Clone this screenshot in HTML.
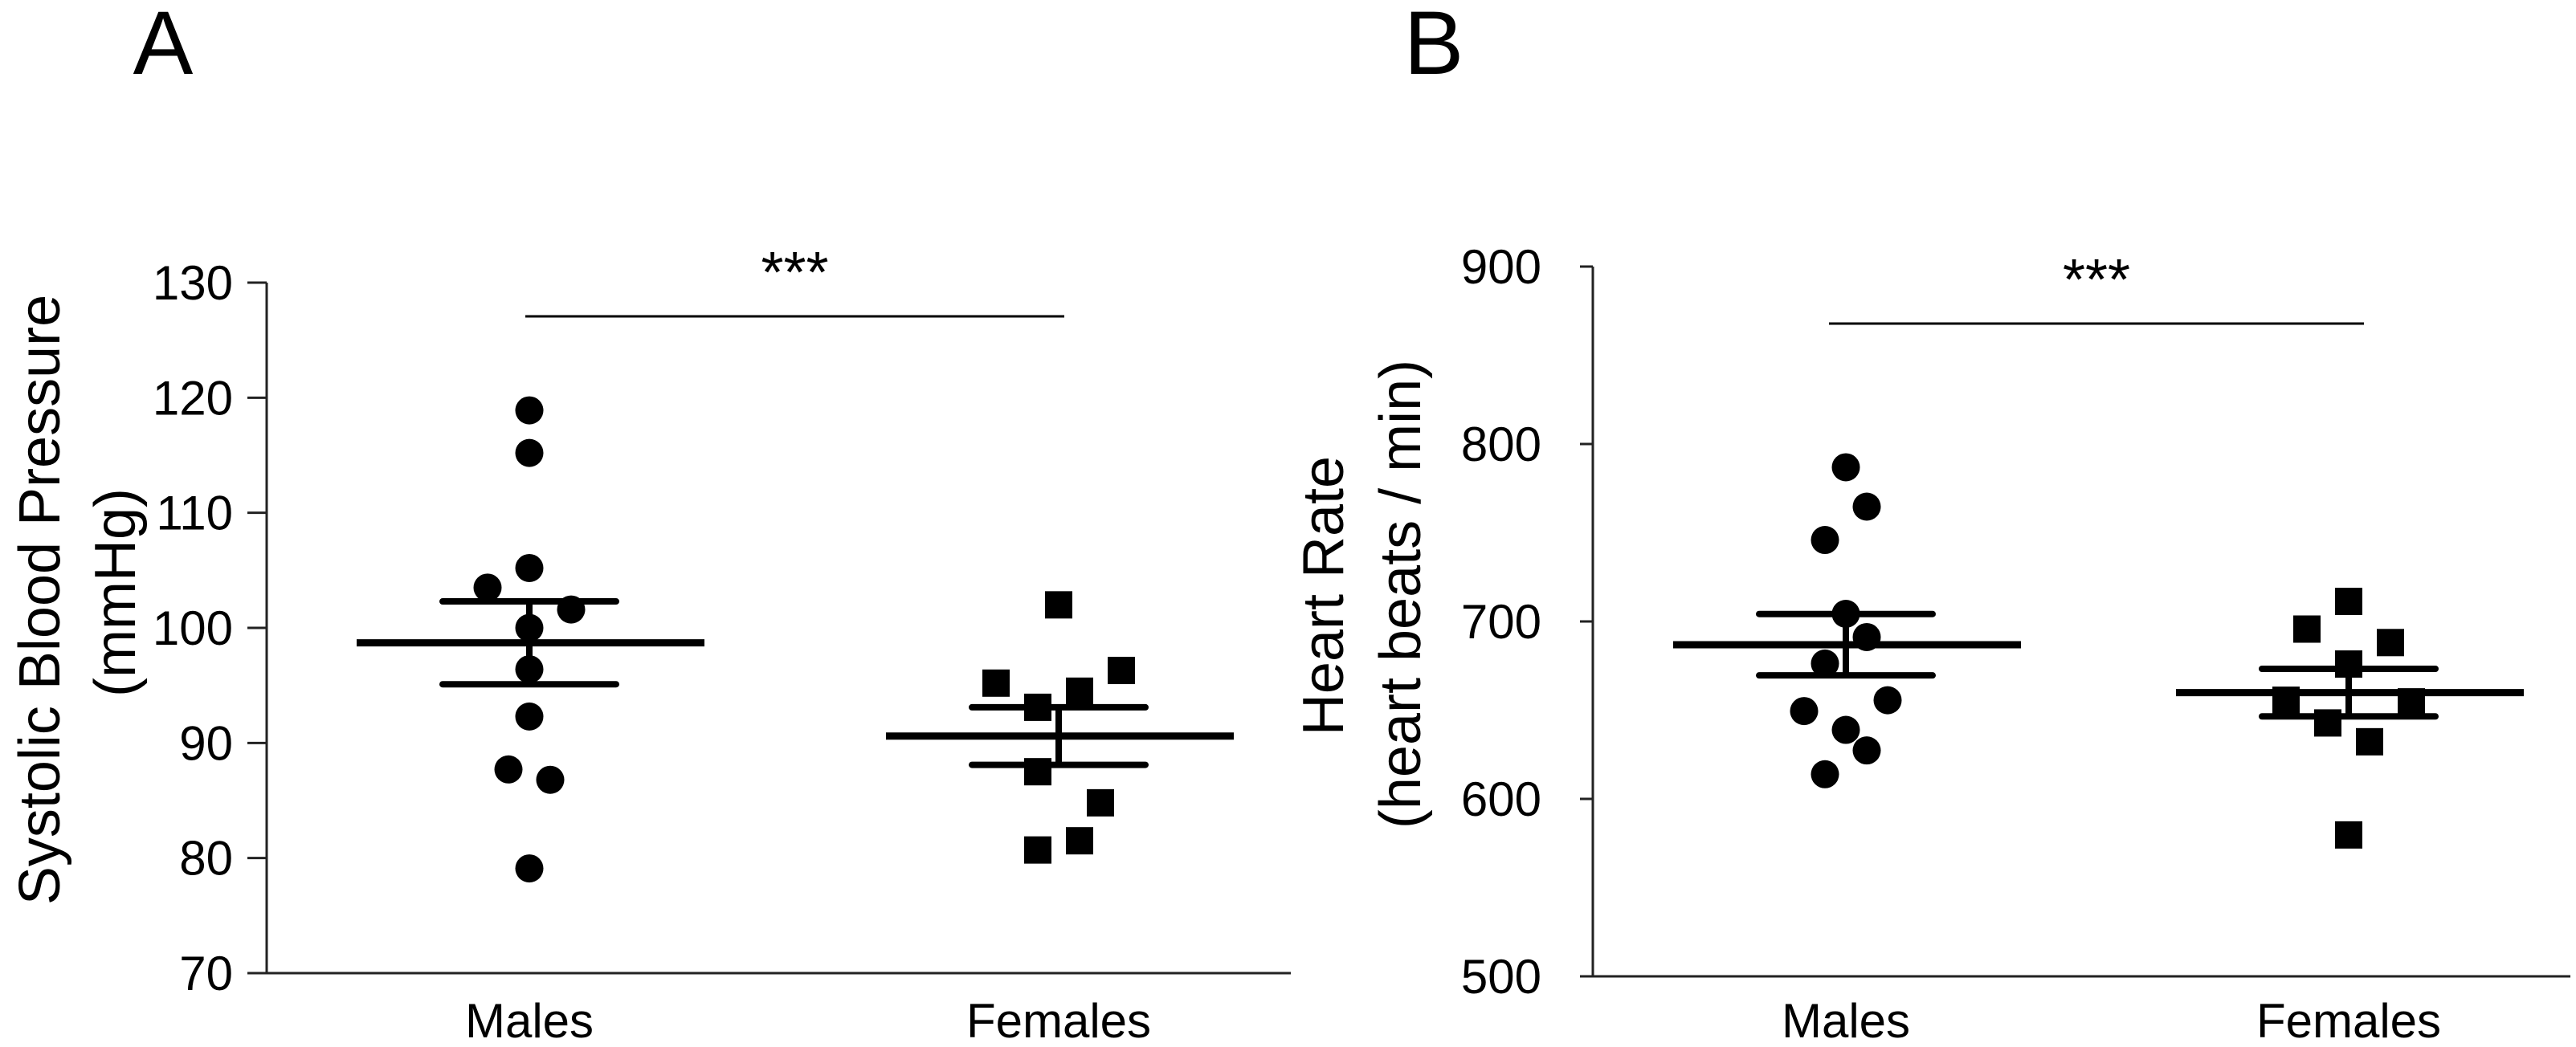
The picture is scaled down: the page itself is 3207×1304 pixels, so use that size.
<!DOCTYPE html>
<html><head><meta charset="utf-8">
<style>
html,body{margin:0;padding:0;background:#fff;}
svg{display:block;font-family:"Liberation Sans",Arial,sans-serif;}
</style></head>
<body>
<svg id="fig" width="3207" height="1304" viewBox="0 0 3207 1304" xmlns="http://www.w3.org/2000/svg">
<text x="203" y="92" font-size="112" text-anchor="middle">A</text>
<text x="1785" y="92" font-size="112" text-anchor="middle">B</text>
<g id="panelA"></g>
<g id="panelB"></g>
</svg>
<script>
// Panel A data
const aTicks = [70, 80, 90, 100, 110, 120, 130];
const aCategories = ["Males", "Females"];
const aMales = [118.9, 115.2, 105.2, 103.5, 101.6, 100.0, 96.4, 92.3, 87.7, 86.8, 79.1];
const aMalesOffset = [0, 0, 0, -2, 2, 0, 0, 0, -1, 1, 0];
const aFemales = [102.0, 95.2, 96.3, 94.5, 93.1, 87.5, 84.8, 81.5, 80.7];
const aFemalesOffset = [0, -3, 3, 1, -1, -1, 2, 1, -1];
const aMeans = [98.7, 90.6];
const aSem = [3.6, 2.5];
// Panel B data
const bTicks = [500, 600, 700, 800, 900];
const bCategories = ["Males", "Females"];
const bMales = [786.9, 764.7, 745.9, 704.3, 691.2, 676.3, 655.6, 649.5, 638.9, 627.3, 613.9];
const bMalesOffset = [0, 1, -1, 0, 1, -1, 2, -2, 0, 1, -1];
const bFemales = [711.3, 695.7, 688.1, 676.0, 655.6, 654.7, 642.8, 632.2, 579.7];
const bFemalesOffset = [0, -2, 2, 0, -3, 3, -1, 1, 0];
const bMeans = [686.9, 659.9];
const bSem = [17.3, 13.4];

const NS = "http://www.w3.org/2000/svg";
function mk(parent, tag, attrs, text) {
  const e = document.createElementNS(NS, tag);
  for (const k in attrs) e.setAttribute(k, attrs[k]);
  if (text !== undefined) e.textContent = text;
  parent.appendChild(e);
  return e;
}

function drawPanel(g, cfg) {
  const yScale = v => cfg.yBottom - (v - cfg.yMin) / (cfg.yMax - cfg.yMin) * (cfg.yBottom - cfg.yTop);
  const xCat = i => cfg.catX[i];
  let ax = mk(g, "line", {x1: cfg.axisX, y1: cfg.yTop, x2: cfg.axisX, y2: cfg.yBottom, stroke: "#222", "stroke-width": 3});
  
  
  let xa = mk(g, "line", {x1: cfg.axisX - cfg.tickLen, y1: cfg.yBottom, x2: cfg.xEnd, y2: cfg.yBottom, stroke: "#222", "stroke-width": 3});
  
  
  cfg.ticks.forEach(t => {
    const y = yScale(t);
    const tl = mk(g, "line", {x1: cfg.axisX - cfg.tickLen, y1: y, x2: cfg.axisX, y2: y, stroke: "#222", "stroke-width": 3});
    
    
    const tx = mk(g, "text", {x: cfg.labelRight, y: y + 21, "font-size": 60, "text-anchor": "end"}, String(t));
    
    
  });
  cfg.categories.forEach((c, i) => {
    const t = mk(g, "text", {x: xCat(i), y: 1292, "font-size": 60, "text-anchor": "middle"}, c);
    
    
  });
  cfg.titles.forEach(tt => {
    const t = mk(g, "text", {x: 0, y: 0, "font-size": 72, "text-anchor": "middle", transform: `translate(${tt.x},${tt.y}) rotate(-90)`}, tt.text);
    
    
  });
  cfg.males.forEach((v, i) => {
    const c = mk(g, "circle", {cx: xCat(0) + cfg.malesOff[i] * 26, cy: yScale(v), r: 17.5, fill: "#000"});
    
    
  });
  cfg.females.forEach((v, i) => {
    const r = mk(g, "rect", {x: xCat(1) + cfg.femalesOff[i] * 26 - 17, y: yScale(v) - 17, width: 34, height: 34, fill: "#000"});
    
    
  });
  cfg.means.forEach((m, i) => {
    const cx = xCat(i);
    const ym = yScale(m), yu = yScale(m + cfg.sem[i]), yl = yScale(m - cfg.sem[i]);
    const vl = mk(g, "line", {x1: cx, y1: yu, x2: cx, y2: yl, stroke: "#000", "stroke-width": 8});
    
    
    const ml = mk(g, "line", {x1: cx - 215, y1: ym, x2: cx + 218, y2: ym, stroke: "#000", "stroke-width": 9});
    
    
    [yu, yl].forEach(yy => {
      const cap = mk(g, "line", {x1: cx - 108, y1: yy, x2: cx + 108, y2: yy, stroke: "#000", "stroke-width": 8, "stroke-linecap": "round"});
      
      
    });
  });
  const sb = mk(g, "line", {x1: cfg.sig[0], y1: cfg.sigY, x2: cfg.sig[1], y2: cfg.sigY, stroke: "#000", "stroke-width": 3});
  
  
  const st = mk(g, "text", {x: (cfg.sig[0] + cfg.sig[1]) / 2, y: cfg.sigY - 30, "font-size": 72, "text-anchor": "middle"}, "***");
  
  
}

drawPanel(document.getElementById("panelA"), {
  yMin: 70, yMax: 130, yTop: 352, yBottom: 1212, axisX: 332, tickLen: 24, xEnd: 1607, labelRight: 290,
  ticks: aTicks, categories: aCategories, catX: [659, 1318],
  males: aMales, malesOff: aMalesOffset, females: aFemales, femalesOff: aFemalesOffset,
  means: aMeans, sem: aSem, sig: [654, 1325], sigY: 394,
  titles: [{x: 74, y: 747, text: "Systolic Blood Pressure"}, {x: 168, y: 738, text: "(mmHg)"}]
});
drawPanel(document.getElementById("panelB"), {
  yMin: 500, yMax: 900, yTop: 332, yBottom: 1216, axisX: 1983, tickLen: 16, xEnd: 3200, labelRight: 1919,
  ticks: bTicks, categories: bCategories, catX: [2298, 2924],
  males: bMales, malesOff: bMalesOffset, females: bFemales, femalesOff: bFemalesOffset,
  means: bMeans, sem: bSem, sig: [2277, 2943], sigY: 403,
  titles: [{x: 1672, y: 742, text: "Heart Rate"}, {x: 1768, y: 740, text: "(heart beats / min)"}]
});
</script>
</body></html>
